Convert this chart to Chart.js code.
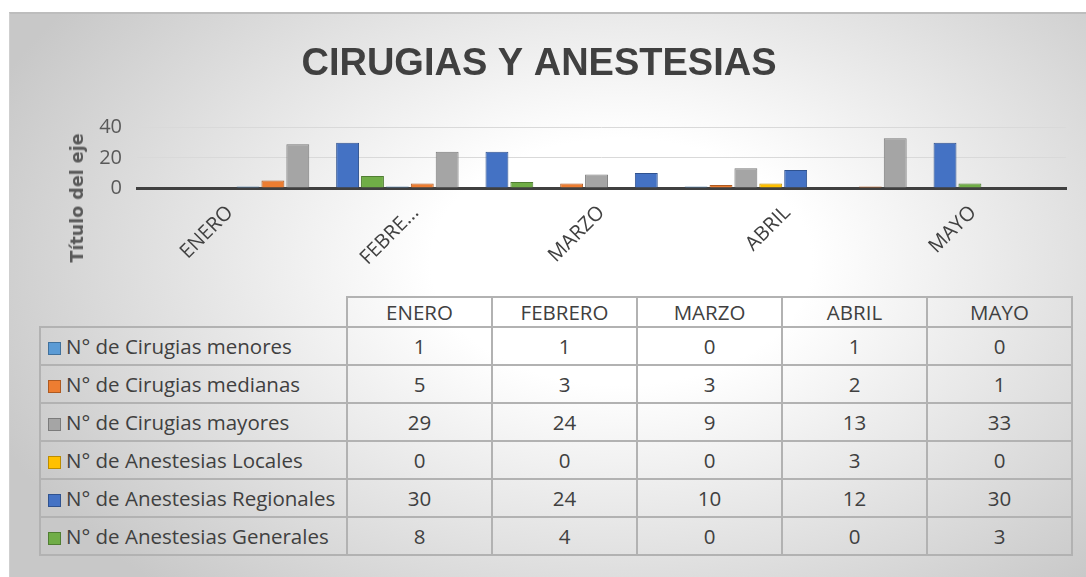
<!DOCTYPE html>
<html>
<head>
<meta charset="utf-8">
<script src="https://cdn.jsdelivr.net/npm/chart.js@4"></script>
<style>
  html, body { margin: 0; padding: 0; background: #ffffff; }
  body { width: 1086px; height: 577px; position: relative; overflow: hidden; }
  #frame {
    position: absolute; left: 9px; top: 12px; right: 0; bottom: 0;
    border-top: 2px solid #bdbdbd; border-left: 1px solid #cfcfcf;
    background: radial-gradient(ellipse 680px 440px at 611px 248px, #ffffff 0%, #ffffff 28%, #c8c8c8 100%);
  }
  #chart { position: absolute; left: 0; top: 0; }
  #ytitle {
    position: absolute; left: 77px; top: 198px;
    transform: translate(-50%, -50%) rotate(-90deg);
    font: bold 17.5px "DejaVu Sans", sans-serif; color: #595959; white-space: nowrap;
  }
  #datatable {
    position: absolute; left: 39px; top: 296px;
    border-collapse: collapse; font-family: "Open Sans", sans-serif; font-size: 20.5px; color: #404040;
  }
  #datatable td, #datatable th { border: 2px solid #b2b2b2; padding: 0; font-weight: normal; text-align: center; }
  #datatable th { height: 27px; }
  #datatable td { height: 36px; }
  #datatable th.blank { border-top: none; border-left: none; }
  #datatable td.name { text-align: left; padding-left: 7px; white-space: nowrap; }
  .key { display: inline-block; width: 11px; height: 11px; border: 1.5px solid; margin-right: 5px; vertical-align: -1px; }
</style>
</head>
<body>
<div id="frame"></div>
<canvas id="chart" width="1086" height="268"></canvas>
<div id="ytitle">Título del eje</div>
<table id="datatable"></table>
<script>
document.addEventListener('DOMContentLoaded', function() {

    const months = ['ENERO', 'FEBRERO', 'MARZO', 'ABRIL', 'MAYO'];
    const seriesNames = [
        'N° de Cirugias menores',
        'N° de Cirugias medianas',
        'N° de Cirugias mayores',
        'N° de Anestesias Locales',
        'N° de Anestesias Regionales',
        'N° de Anestesias Generales'
    ];
    const cirugiasMenores = [1, 1, 0, 1, 0];
    const cirugiasMedianas = [5, 3, 3, 2, 1];
    const cirugiasMayores = [29, 24, 9, 13, 33];
    const anestesiasLocales = [0, 0, 0, 3, 0];
    const anestesiasRegionales = [30, 24, 10, 12, 30];
    const anestesiasGenerales = [8, 4, 0, 0, 3];
    const yTickValues = [0, 20, 40];

    const allSeries = [cirugiasMenores, cirugiasMedianas, cirugiasMayores,
                       anestesiasLocales, anestesiasRegionales, anestesiasGenerales];
    const fillColors = ['#5B9BD5', '#ED7D31', '#A5A5A5', '#FFC000', '#4472C4', '#70AD47'];
    const edgeColors = ['#41719C', '#AE5A21', '#7B7B7B', '#BC8C00', '#2F528F', '#507E32'];

    // bars sit on a hidden linear axis (index -> value), month labels on their own axis
    const datasets = allSeries.map(function(values, s) {
        return {
            label: seriesNames[s],
            data: values.map(function(v, i) { return { x: i, y: v }; }),
            backgroundColor: fillColors[s],
            borderColor: edgeColors[s],
            borderWidth: 1,
            xAxisID: 'x',
            categoryPercentage: 1.0,
            barPercentage: 0.92
        };
    });

    const ctx = document.getElementById('chart');
    new Chart(ctx, {
        type: 'bar',
        data: { labels: months, datasets: datasets },
        options: {
            responsive: false,
            animation: false,
            layout: { padding: { left: 12, right: 20, top: 0, bottom: 0 } },
            plugins: {
                legend: { display: false },
                tooltip: { enabled: false },
                title: {
                    display: true,
                    text: 'CIRUGIAS Y ANESTESIAS',
                    color: '#404040',
                    font: { family: 'Liberation Sans', size: 38, weight: 'bold' },
                    padding: { top: 42, bottom: 40 }
                }
            },
            scales: {
                x: {
                    type: 'linear',
                    display: false,
                    offset: false,
                    min: -1.16,
                    max: 5.06
                },
                xl: {
                    type: 'category',
                    position: 'bottom',
                    labels: months,
                    offset: true,
                    grid: { display: false },
                    border: { display: true, color: '#404040', width: 3 },
                    afterFit: function(scale) { scale.height = 80; },
                    ticks: {
                        minRotation: 45,
                        maxRotation: 45,
                        autoSkip: false,
                        padding: 5,
                        color: '#404040',
                        font: { family: 'Open Sans', size: 20 },
                        callback: function(value) {
                            const l = this.getLabelForValue(value);
                            return l.length > 6 ? l.slice(0, 5) + '...' : l;
                        }
                    }
                },
                y: {
                    min: yTickValues[0],
                    max: yTickValues[yTickValues.length - 1],
                    afterFit: function(scale) { scale.width = 125; },
                    grid: { color: '#d9d9d9', drawTicks: false },
                    border: { display: false },
                    ticks: {
                        stepSize: yTickValues[1] - yTickValues[0],
                        padding: 15,
                        color: '#595959',
                        font: { family: 'Open Sans', size: 20 }
                    }
                }
            }
        }
    });

    // data table under the chart
    const table = document.getElementById('datatable');
    let head = '<tr><th class="blank" style="width:306px"></th>';
    for (let i = 0; i < months.length; i++) {
        head += '<th style="width:143px">' + months[i] + '</th>';
    }
    head += '</tr>';
    let body = '';
    for (let s = 0; s < allSeries.length; s++) {
        body += '<tr><td class="name"><span class="key" style="background:' + fillColors[s] +
                ';border-color:' + edgeColors[s] + '"></span>' + seriesNames[s] + '</td>';
        for (let i = 0; i < months.length; i++) {
            body += '<td>' + allSeries[s][i] + '</td>';
        }
        body += '</tr>';
    }
    table.innerHTML = head + body;
});
</script>
</body>
</html>
